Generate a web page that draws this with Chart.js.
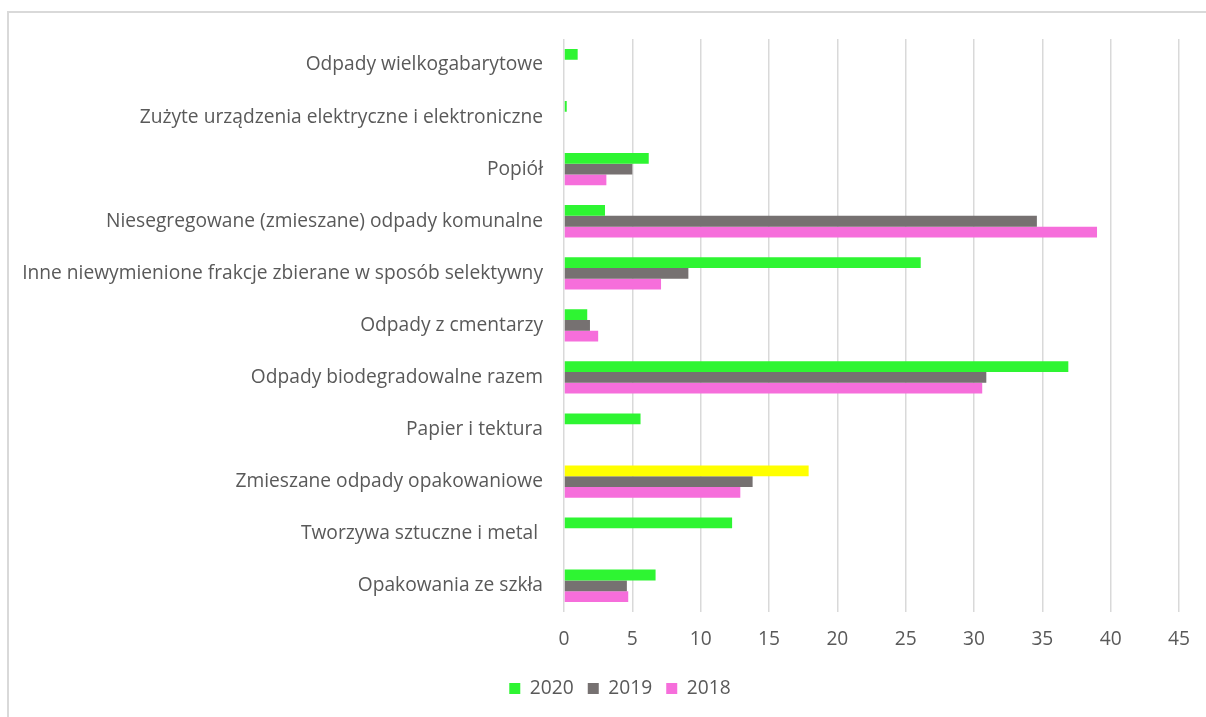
<!DOCTYPE html>
<html>
<head>
<meta charset="utf-8">
<script src="https://cdn.jsdelivr.net/npm/chart.js@4"></script>
<style>
  body { margin: 0; background: #fff; }
  #frame { position: absolute; left: 7px; top: 11px; width: 1210px; height: 720px;
           border-left: 2px solid #d9d9d9; border-top: 2px solid #d9d9d9; pointer-events: none; }
  #box { position: absolute; left: 0; top: 0; width: 1206px; height: 717px; }
</style>
</head>
<body>
<div id="box"><canvas id="wasteChart" width="1206" height="717"></canvas></div>
<div id="frame"></div>
<script>
// Categories, top to bottom as in the picture
var categories = [
    'Odpady wielkogabarytowe',
    'Zużyte urządzenia elektryczne i elektroniczne',
    'Popiół',
    'Niesegregowane (zmieszane) odpady komunalne',
    'Inne niewymienione frakcje zbierane w sposób selektywny',
    'Odpady z cmentarzy',
    'Odpady biodegradowalne razem',
    'Papier i tektura',
    'Zmieszane odpady opakowaniowe',
    'Tworzywa sztuczne i metal ',
    'Opakowania ze szkła'
];

// Series values (null = no bar)
var values2020 = [1.0, 0.2, 6.2, 3.0, 26.1, 1.7, 36.9, 5.6, 17.9, 12.3, 6.7];
var values2019 = [null, null, 5.0, 34.6, 9.1, 1.9, 30.9, null, 13.8, null, 4.6];
var values2018 = [null, null, 3.1, 39.0, 7.1, 2.5, 30.6, null, 12.9, null, 4.7];

var xTicks = [0, 5, 10, 15, 20, 25, 30, 35, 40, 45];

// 2020 bar for "Zmieszane odpady opakowaniowe" is yellow in the original
var green = '#2ef532';
var colors2020 = categories.map(function (c) {
    return c === 'Zmieszane odpady opakowaniowe' ? '#ffff00' : green;
});

var fontFamily = '"Open Sans", "Noto Sans", sans-serif';
var fontSize = 19.2;
var textColor = '#595959';

// the legend in the original sits a bit right of centre
var legendShift = {
    id: 'legendShift',
    afterLayout: function (chart) {
        chart.legend.left += 19;
        chart.legend.right += 19;
    }
};

var ctx = document.getElementById('wasteChart').getContext('2d');

window.myChart = new Chart(ctx, {
    type: 'bar',
    data: {
        labels: categories,
        datasets: [
            { label: '2020', data: values2020, backgroundColor: colors2020 },
            { label: '2019', data: values2019, backgroundColor: '#767171' },
            { label: '2018', data: values2018, backgroundColor: '#f66edb' }
        ]
    },
    plugins: [legendShift],
    options: {
        indexAxis: 'y',
        responsive: false,
        animation: false,
        devicePixelRatio: 1,
        layout: { padding: { top: 39, right: 4, bottom: 9, left: 0 } },
        datasets: {
            bar: { categoryPercentage: 0.62, barPercentage: 1.0 }
        },
        plugins: {
            legend: {
                position: 'bottom',
                labels: {
                    // legend swatch should stay green even though one 2020 bar is yellow
                    generateLabels: function (chart) {
                        var items = Chart.defaults.plugins.legend.labels.generateLabels(chart);
                        items[0].fillStyle = green;
                        items[0].strokeStyle = green;
                        return items;
                    },
                    boxWidth: 11,
                    boxHeight: 11,
                    padding: 14,
                    color: textColor,
                    font: { family: fontFamily, size: fontSize }
                }
            },
            tooltip: { enabled: false }
        },
        scales: {
            x: {
                min: 0,
                max: 45,
                afterBuildTicks: function (scale) {
                    scale.ticks = xTicks.map(function (v) { return { value: v }; });
                },
                afterFit: function (scale) {
                    scale.height = 53;
                },
                grid: { color: '#d9d9d9', lineWidth: 1.5, drawTicks: false },
                border: { display: false },
                ticks: {
                    padding: 16,
                    color: textColor,
                    font: { family: fontFamily, size: fontSize }
                }
            },
            y: {
                grid: { display: false, drawTicks: false },
                border: { display: false },
                afterFit: function (scale) {
                    scale.width = 564;  // plot starts at x = 564 like the original
                },
                ticks: {
                    padding: 21,
                    autoSkip: false,
                    color: textColor,
                    font: { family: fontFamily, size: fontSize }
                }
            }
        }
    }
});
</script>
</body>
</html>
